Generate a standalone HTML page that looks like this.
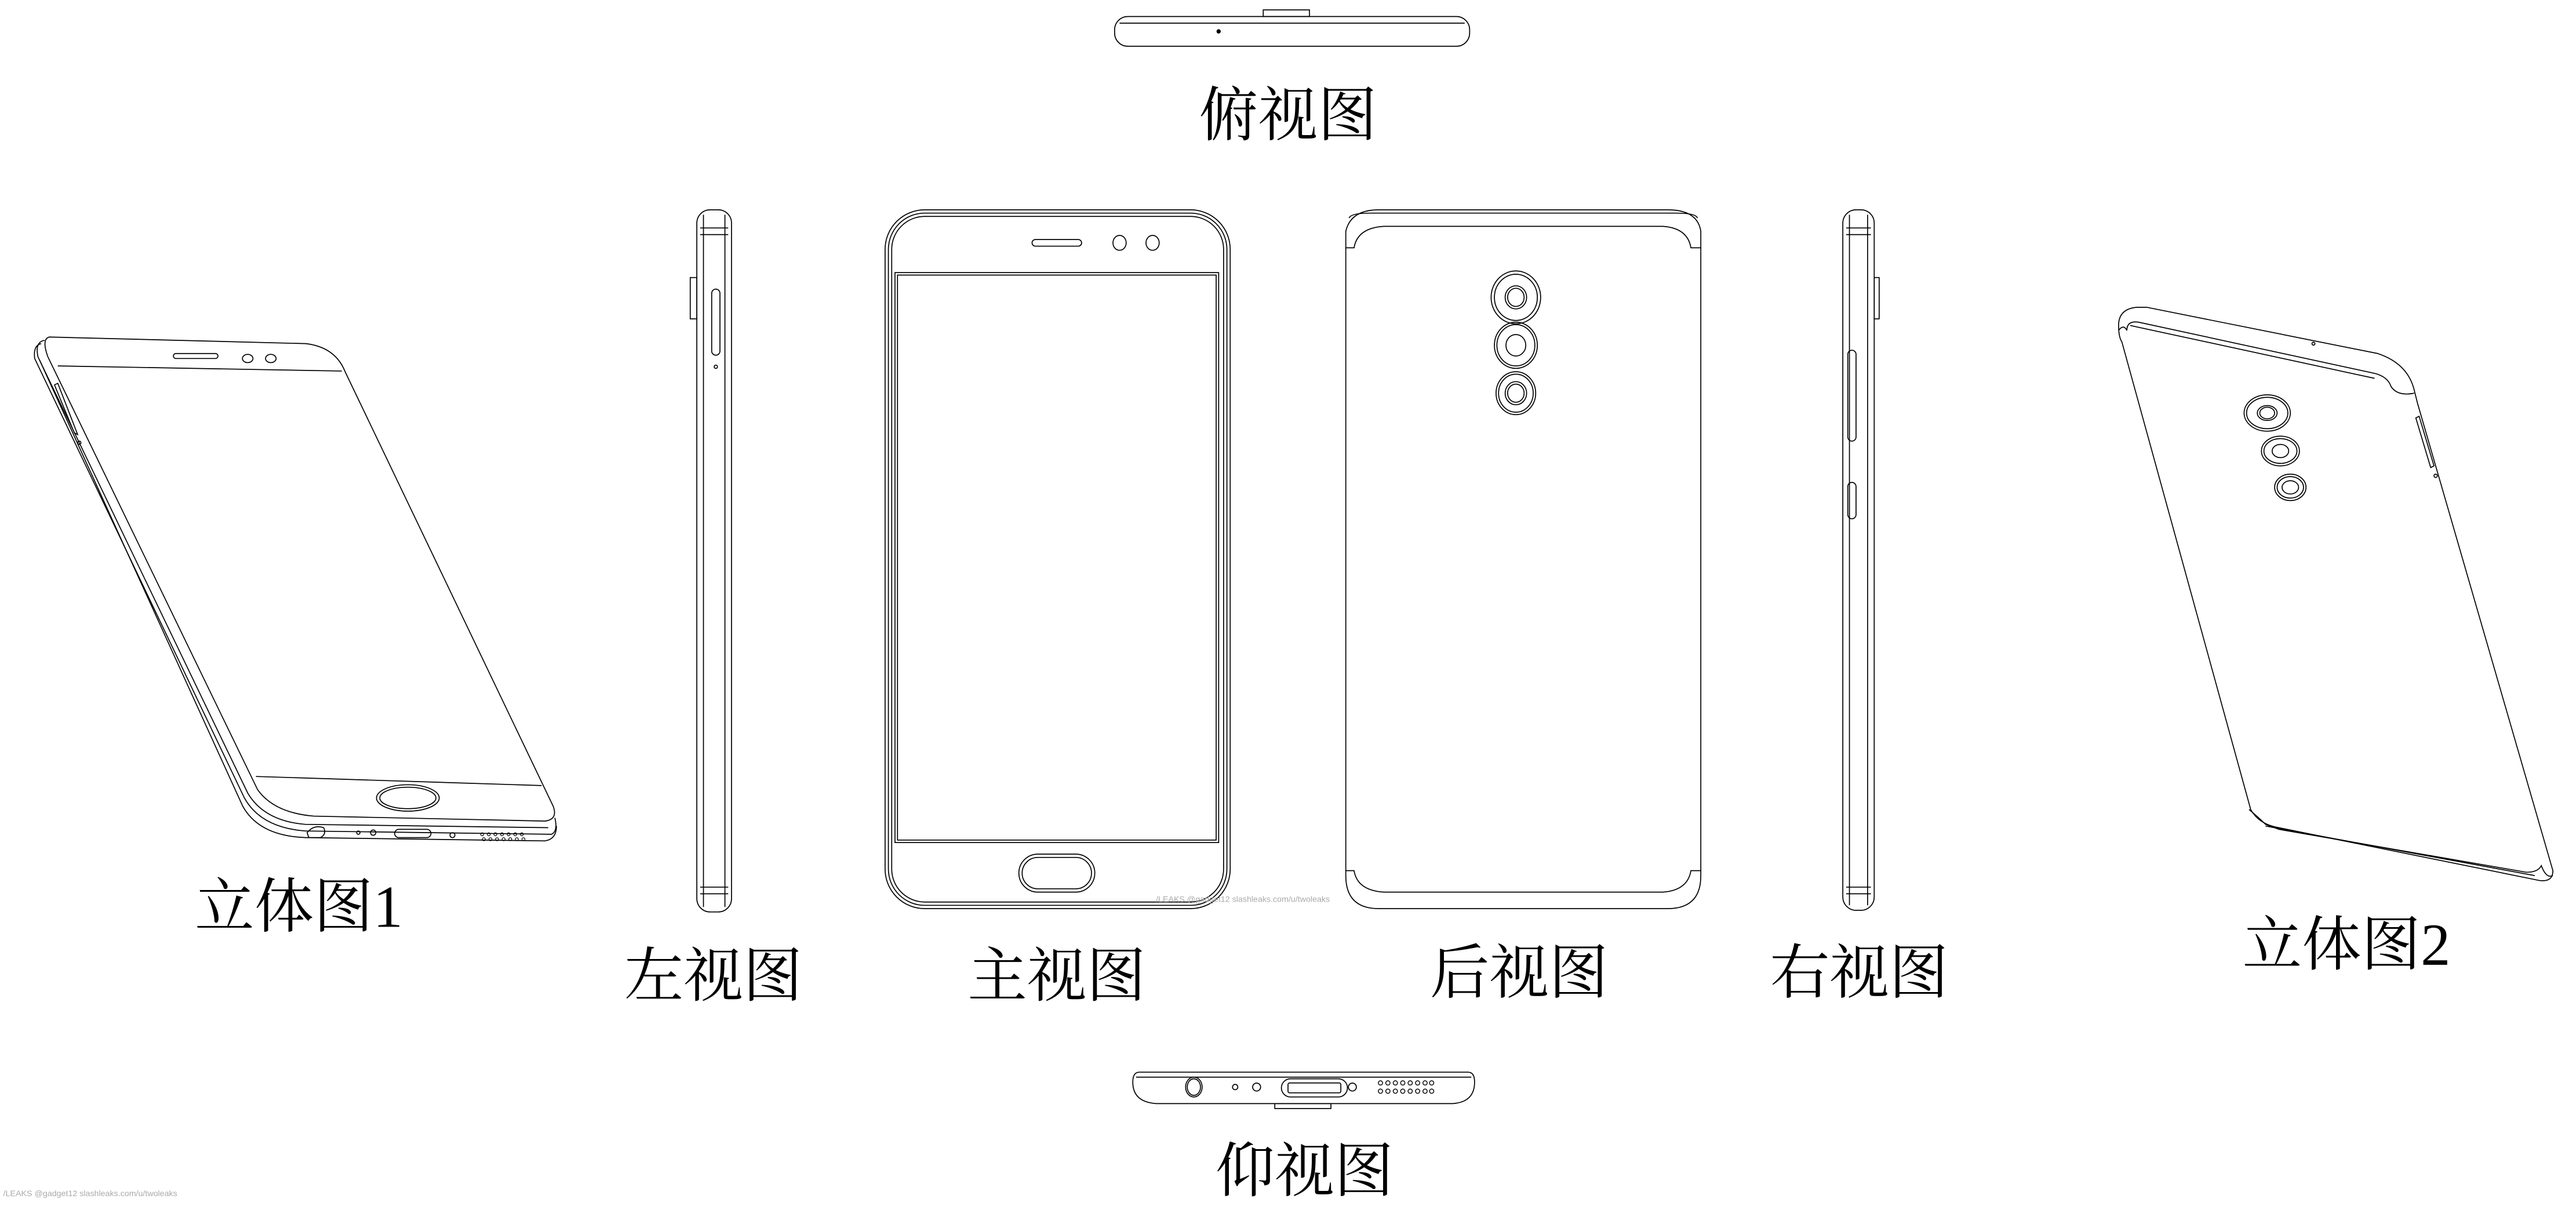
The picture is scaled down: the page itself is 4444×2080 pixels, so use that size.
<!DOCTYPE html>
<html><head><meta charset="utf-8">
<style>
html,body{margin:0;padding:0;background:#fff;}
svg{display:block;}
text{font-family:"Liberation Serif","Noto Serif CJK SC",serif;fill:#000;}
</style></head>
<body>
<svg width="4444" height="2080" viewBox="0 0 1560 730" preserveAspectRatio="none" xmlns="http://www.w3.org/2000/svg">
<g fill="none" stroke="#000" stroke-width="0.6">
<!-- Top view -->
<rect x="675" y="10" width="215" height="18" rx="8"/>
<line x1="678" y1="14" x2="887" y2="14"/>
<rect x="765" y="6" width="28" height="4"/>
<circle cx="738" cy="19" r="1" fill="#000"/>

<!-- Bottom view -->
<path d="M690 649 Q686 649 686 655 Q686 667 700 668 L880 668 Q893 667 893 655 Q893 649 889 649 Z"/>
<line x1="688" y1="652" x2="891" y2="652"/>
<rect x="772" y="668" width="34" height="3"/>
<ellipse cx="723" cy="658" rx="5" ry="6"/>
<ellipse cx="723" cy="658" rx="4" ry="5"/>
<circle cx="748" cy="658" r="1.6"/>
<circle cx="761" cy="658" r="2.4"/>
<rect x="776" y="653" width="40" height="11" rx="5.5"/>
<rect x="780" y="655.5" width="32" height="6" rx="1"/>
<circle cx="819" cy="658" r="2.4"/>
<g stroke-width="0.5">
<circle cx="836" cy="655.5" r="1.3"/><circle cx="840.5" cy="655.5" r="1.3"/><circle cx="845" cy="655.5" r="1.3"/><circle cx="849.5" cy="655.5" r="1.3"/><circle cx="854" cy="655.5" r="1.3"/><circle cx="858.5" cy="655.5" r="1.3"/><circle cx="863" cy="655.5" r="1.3"/><circle cx="867" cy="655.5" r="1.3"/>
<circle cx="836" cy="660.5" r="1.3"/><circle cx="840.5" cy="660.5" r="1.3"/><circle cx="845" cy="660.5" r="1.3"/><circle cx="849.5" cy="660.5" r="1.3"/><circle cx="854" cy="660.5" r="1.3"/><circle cx="858.5" cy="660.5" r="1.3"/><circle cx="863" cy="660.5" r="1.3"/><circle cx="867" cy="660.5" r="1.3"/>
</g>

<!-- Front view -->
<rect x="536" y="127" width="209" height="423" rx="24"/>
<rect x="538" y="129" width="205" height="419" rx="22"/>
<rect x="540" y="131" width="201" height="415" rx="20"/>
<rect x="542" y="165" width="196" height="345"/>
<rect x="543.5" y="166.5" width="193" height="342"/>
<rect x="625" y="145" width="30" height="4" rx="2"/>
<ellipse cx="678" cy="147" rx="4" ry="4.5"/>
<ellipse cx="698" cy="147" rx="4" ry="4.5"/>
<rect x="617" y="517" width="46" height="23" rx="11.5"/>
<rect x="619" y="519" width="42" height="19" rx="9.5"/>

<!-- Back view -->
<path d="M815 152 L815 140 Q818 127 835 127 L1010 127 Q1028 127 1030 140 L1030 152"/>
<path d="M815 152 L815 530 Q815 550 835 550 L1010 550 Q1030 550 1030 530 L1030 152"/>
<path d="M815 150 L820 150 Q822 138 838 137 L1007 137 Q1022 138 1024 150 L1030 150"/>
<path d="M815 527 L820 527 Q822 539 838 540 L1007 540 Q1022 539 1024 527 L1030 527"/>
<path d="M817 132 Q818 129 830 129 L1015 129 Q1027 129 1028 132"/>
<ellipse cx="918" cy="180" rx="15" ry="16"/>
<ellipse cx="918" cy="180" rx="13" ry="14"/>
<ellipse cx="918" cy="180" rx="6.5" ry="7"/>
<ellipse cx="918" cy="180" rx="5" ry="5.5"/>
<ellipse cx="918" cy="209" rx="13" ry="14"/>
<ellipse cx="918" cy="209" rx="11.5" ry="12.5"/>
<ellipse cx="918" cy="209" rx="6" ry="6.5"/>
<ellipse cx="918" cy="238" rx="12" ry="13"/>
<ellipse cx="918" cy="238" rx="10.5" ry="11.5"/>
<ellipse cx="918" cy="238" rx="6.5" ry="7"/>
<ellipse cx="918" cy="238" rx="5" ry="5.5"/>

<!-- Left view -->
<rect x="422" y="127" width="21" height="425" rx="8"/>
<line x1="424" y1="138" x2="441" y2="138"/>
<line x1="424" y1="142" x2="441" y2="142"/>
<line x1="424" y1="537" x2="441" y2="537"/>
<line x1="424" y1="541" x2="441" y2="541"/>
<line x1="426" y1="130" x2="426" y2="549"/>
<line x1="439" y1="130" x2="439" y2="549"/>
<rect x="418" y="168" width="4" height="25"/>
<rect x="431" y="175" width="5" height="40" rx="2.5"/>
<circle cx="433.5" cy="222" r="1"/>

<!-- Right view -->
<rect x="1116" y="127" width="19" height="424" rx="8"/>
<line x1="1118" y1="138" x2="1133" y2="138"/>
<line x1="1118" y1="142" x2="1133" y2="142"/>
<line x1="1118" y1="537" x2="1133" y2="537"/>
<line x1="1118" y1="541" x2="1133" y2="541"/>
<line x1="1120" y1="130" x2="1120" y2="548"/>
<line x1="1131" y1="130" x2="1131" y2="548"/>
<rect x="1135" y="168" width="3" height="25"/>
<rect x="1119" y="212" width="5" height="55" rx="2.5"/>
<rect x="1119" y="292" width="5" height="22" rx="2.5"/>

<!-- Perspective 1 -->
<path d="M30 204 L185 208 Q203 210 209 225 L335 488 Q338 496 330 497 L190 494 Q166 492 156 478 L29 216 Q25 205 30 204 Z"/>
<path d="M27 206 Q21 207 23 216 L150 480 Q160 497 185 499 L332 501"/>
<path d="M25 208 Q20 209 21 217 L148 483 Q158 501 185 503 L334 505 Q338 503 336 495"/>
<path d="M24 218 L147 488 Q157 506 185 507 L330 509 Q337 508 337 500"/>
<line x1="35" y1="221.5" x2="207" y2="224.6"/>
<line x1="155" y1="470" x2="328" y2="475.5"/>
<rect x="105" y="214" width="27" height="3" rx="1.5"/>
<ellipse cx="150" cy="217" rx="3.2" ry="2.5"/>
<ellipse cx="164" cy="217" rx="3.2" ry="2.5"/>
<ellipse cx="247" cy="483" rx="19" ry="8"/>
<ellipse cx="247" cy="483" rx="17" ry="6.5"/>
<path d="M33 233 L45 262 L47 263 L35 232 Z"/>
<circle cx="48" cy="268" r="1"/>
<path d="M186 504 Q190 499 196 501 Q198 505 194 507 L187 507 Z"/>
<circle cx="217" cy="504" r="1"/>
<circle cx="226" cy="504" r="1.6"/>
<rect x="239" y="502" width="22" height="5" rx="2.5"/>
<circle cx="274" cy="505.5" r="1.5"/>
<g stroke-width="0.45">
<circle cx="292" cy="505" r="0.9"/><circle cx="296" cy="505" r="0.9"/><circle cx="300" cy="505" r="0.9"/><circle cx="304" cy="505" r="0.9"/><circle cx="308" cy="505" r="0.9"/><circle cx="312" cy="505" r="0.9"/><circle cx="316" cy="505" r="0.9"/>
<circle cx="293" cy="508" r="0.9"/><circle cx="297" cy="508" r="0.9"/><circle cx="301" cy="508" r="0.9"/><circle cx="305" cy="508" r="0.9"/><circle cx="309" cy="508" r="0.9"/><circle cx="313" cy="508" r="0.9"/><circle cx="317" cy="508" r="0.9"/>
</g>

<!-- Perspective 2 -->
<path d="M1294 186 Q1283 187 1283 197 Q1283 204 1285 207 L1363 490 Q1368 499 1380 501 L1538 533 Q1546 534 1546 527 L1464 244 L1462 236 Q1458 220 1440 214 L1300 186 Z"/>
<path d="M1283 200 Q1286 196 1288 200 Q1288 194 1295 195 L1438 226 Q1446 228 1448 234 Q1452 240 1462 238"/>
<path d="M1290 197 L1438 229"/>
<path d="M1362 490 Q1368 495 1372 499 L1380 502 L1530 528 Q1537 528 1539 524 Q1542 532 1546 530"/>
<path d="M1372 500 L1535 530"/>
<path d="M1465 252 L1474 282 L1472 283 L1463 253 Z"/>
<circle cx="1475" cy="288" r="1"/>
<circle cx="1401" cy="208" r="0.9"/>
<ellipse cx="1373" cy="250" rx="14" ry="11"/>
<ellipse cx="1373" cy="250" rx="12.5" ry="9.5"/>
<ellipse cx="1373" cy="250" rx="6" ry="4.5"/>
<ellipse cx="1373" cy="250" rx="4.5" ry="3.5"/>
<ellipse cx="1381" cy="273" rx="11.5" ry="9"/>
<ellipse cx="1381" cy="273" rx="10" ry="7.5"/>
<ellipse cx="1381" cy="273" rx="5" ry="4"/>
<ellipse cx="1387" cy="295" rx="9.5" ry="8"/>
<ellipse cx="1387" cy="295" rx="8" ry="6.5"/>
<ellipse cx="1387" cy="295" rx="5" ry="4"/>
</g>

<!-- Labels -->
<g font-size="36" text-anchor="middle">
<text x="780" y="82">俯视图</text>
<text x="181" y="561">立体图1</text>
<text x="432" y="603">左视图</text>
<text x="640" y="603">主视图</text>
<text x="920" y="601">后视图</text>
<text x="1126" y="601">右视图</text>
<text x="1421" y="584">立体图2</text>
<text x="790" y="721">仰视图</text>
</g>
<g font-size="5">
<text x="700" y="546" style="fill:#aaa;font-family:'Liberation Sans',sans-serif">/LEAKS @gadget12 slashleaks.com/u/twoleaks</text>
<text x="2" y="724" style="fill:#aaa;font-family:'Liberation Sans',sans-serif">/LEAKS @gadget12 slashleaks.com/u/twoleaks</text>
</g>
</svg>
</body></html>
